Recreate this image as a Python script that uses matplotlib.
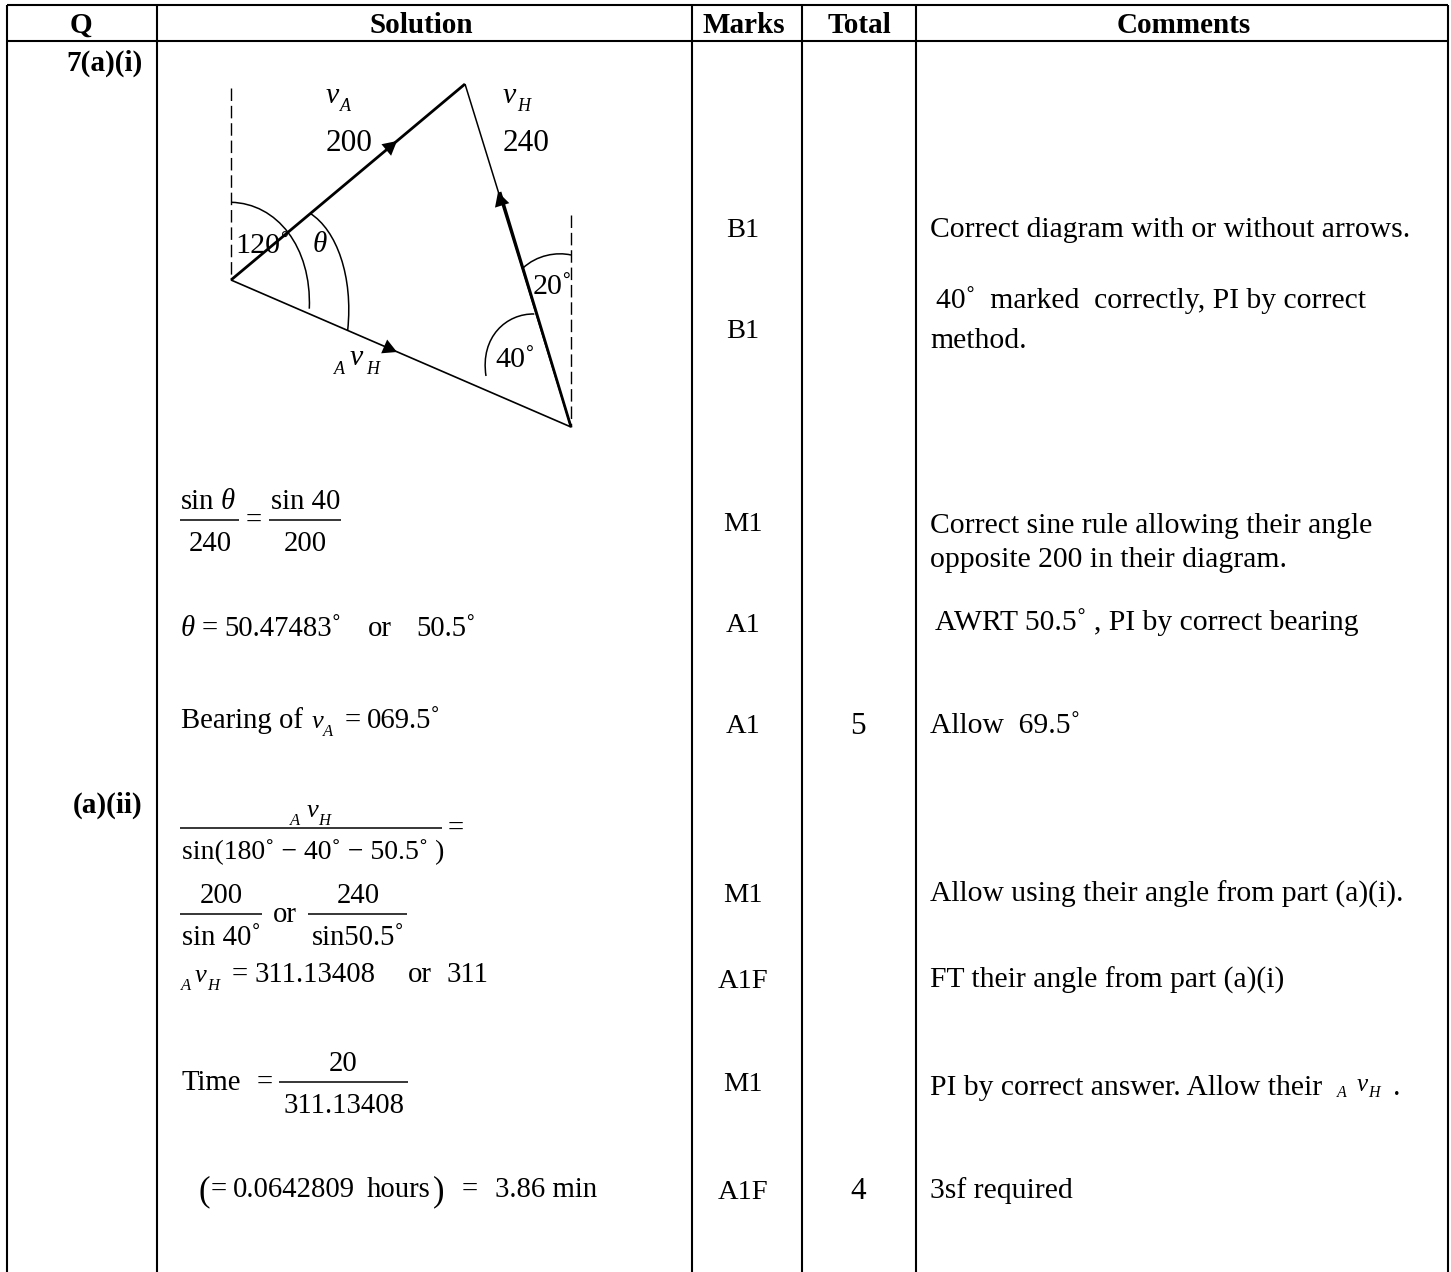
import matplotlib
matplotlib.use("Agg")
import matplotlib.pyplot as plt
from matplotlib.path import Path
from matplotlib.patches import PathPatch, Polygon

plt.rcParams['font.family'] = ['Liberation Serif', 'DejaVu Serif']

W, H = 1451, 1272
DEG = "\u02da"
BODY = 21.3
MATH = 20.7

# table rules
col_x = [7, 157, 692, 802, 916, 1448]
row_y = [5, 41]

headers = ["Q", "Solution", "Marks", "Total", "Comments"]
header_x = [81, 421, 744, 859, 1184]

questions = ["7(a)(i)", "(a)(ii)"]
question_x = [104.5, 108]
question_y = [71, 813]

marks = ["B1", "B1", "M1", "A1", "A1", "M1", "A1F", "M1", "A1F"]
marks_y = [237, 338, 531, 632, 733, 902, 988, 1091, 1199]

totals = ["5", "4"]
totals_y = [734, 1199]

comments = [
    (930, 237, "Correct diagram with or without arrows."),
    (936, 308, "40" + DEG + "  marked  correctly, PI by correct"),
    (930, 348, "method."),
    (930, 533, "Correct sine rule allowing their angle"),
    (930, 567, "opposite 200 in their diagram."),
    (935, 630, "AWRT 50.5" + DEG + " , PI by correct bearing"),
    (930, 733, "Allow  69.5" + DEG),
    (930, 902, "Allow using their angle from part (a)(i)."),
    (930, 988, "FT their angle from part (a)(i)"),
    (930, 1095, "PI by correct answer. Allow their"),
    (1393, 1095, "."),
    (930, 1198, "3sf required"),
]

# vector diagram
vertex_a = (231, 280)
vertex_top = (465, 84)
vertex_right = (571, 427)
heavy_end = (500, 192)
dash_left = [(231, 88), (231, 280)]
dash_right = [(571, 215), (571, 427)]
arrow_tips = [((397, 141), vertex_a), ((498, 192), vertex_right), ((397, 352), vertex_a)]
arcs = [
    [(231, 202.3), (276.7, 203.3), (311.7, 246.7), (309.3, 308.7)],
    [(310, 213.3), (336.7, 230), (353.3, 276.7), (347.7, 330)],
    [(522.7, 268.3), (536.7, 255), (556.7, 251.7), (571, 255)],
    [(486, 376), (480, 336.7), (506.7, 313.3), (534.3, 314)],
]

# plain text pieces of the solution column: x, baseline, text, size, ha
solution_text = [
    (181, 509, "sin", MATH, "left"),
    (210, 551, "240", MATH, "center"),
    (246, 528, "=", MATH, "left"),
    (271, 509, "sin 40", MATH, "left"),
    (305, 551, "200", MATH, "center"),
    (202, 636, "=", MATH, "left"),
    (224, 636, "50.47483" + DEG, MATH, "left"),
    (368, 636, "or", MATH, "left"),
    (416, 636, "50.5" + DEG, MATH, "left"),
    (181, 728, "Bearing of", MATH, "left"),
    (345, 728, "=", MATH, "left"),
    (367, 728, "069.5" + DEG, MATH, "left"),
    (182, 859, "sin(180" + DEG + " \u2212 40" + DEG + " \u2212 50.5" + DEG + " )", 20.0, "left"),
    (448, 836, "=", MATH, "left"),
    (221, 903, "200", MATH, "center"),
    (182, 945, "sin 40" + DEG, MATH, "left"),
    (273, 922, "or", MATH, "left"),
    (358, 903, "240", MATH, "center"),
    (312, 945, "sin50.5" + DEG, MATH, "left"),
    (232, 982, "=", MATH, "left"),
    (255, 982, "311.13408", MATH, "left"),
    (408, 982, "or", MATH, "left"),
    (447, 982, "311", MATH, "left"),
    (181, 1090, "Time", MATH, "left"),
    (257, 1090, "=", MATH, "left"),
    (343, 1071, "20", MATH, "center"),
    (344, 1113, "311.13408", MATH, "center"),
    (199, 1200, "(", 25, "left"),
    (211, 1197, "=", MATH, "left"),
    (233, 1197, "0.0642809", MATH, "left"),
    (367, 1197, "hours", MATH, "left"),
    (433, 1200, ")", 25, "left"),
    (462, 1197, "=", MATH, "left"),
    (495, 1197, "3.86 min", MATH, "left"),
]
fraction_rules = [
    (180, 239, 520), (269, 341, 520), (180, 442, 828),
    (180, 262, 914), (308, 407, 914), (279, 408, 1082),
]
theta_labels = [(221, 509, MATH), (181, 636, MATH), (313, 252, 21)]

# diagram labels
diagram_text = [
    (326, 151, "200", 22.5),
    (503, 151, "240", 22.5),
    (235, 253, "120" + DEG, 21.6),
    (533, 294, "20" + DEG, 21.6),
    (495, 367, "40" + DEG, 21.6),
]

# v terms: x of left subscript, x of v, x of right subscript, baseline of v,
# baseline of the subscripts, left subscript, right subscript, size of v, size of subscripts
v_terms = [
    (None, 326, 340, 103, 111, "", "A", 21.5, 13),
    (None, 503, 517, 103, 111, "", "H", 21.5, 13),
    (334, 350, 366, 365, 374, "A", "H", 21.5, 13),
    (None, 312, 323, 728, 736, "", "A", 19, 12),
    (290, 307, 318, 817, 825, "A", "H", 19, 12),
    (181, 195, 207, 982, 990, "A", "H", 19, 12),
    (1337, 1357, 1368, 1091, 1097, "A", "H", 18, 11.5),
]

fig = plt.figure(figsize=(W / 100, H / 100), dpi=100)
ax = fig.add_axes([0, 0, 1, 1])
ax.set_xlim(0, W)
ax.set_ylim(H, 0)
ax.axis("off")


def t(x, y, s, size=BODY, ha="left", **kw):
    ax.text(x, y, s, fontsize=size, ha=ha, va="baseline", color="black", **kw)


def rule(x0, y0, x1, y1, lw=1.1):
    ax.plot([x0, x1], [y0, y1], color="black", lw=lw, solid_capstyle="butt")


# table
for x in col_x:
    rule(x, row_y[0], x, H, lw=1.5)
for y in row_y:
    rule(col_x[0], y, col_x[-1], y, lw=1.5)

for x, s in zip(header_x, headers):
    t(x, 33, s, ha="center", weight="bold", size=21)
for x, y, s in zip(question_x, question_y, questions):
    t(x, y, s, ha="center", weight="bold", size=21)
for y, s in zip(marks_y, marks):
    t(743, y, s, ha="center", size=20.5)
for y, s in zip(totals_y, totals):
    t(858, y, s, ha="center", size=22.5)
for x, y, s in comments:
    t(x, y, s)

# diagram lines
rule(*vertex_a, *vertex_top, lw=2.0)
rule(*vertex_top, *vertex_right, lw=1.1)
rule(*heavy_end, *vertex_right, lw=2.0)
rule(*vertex_a, *vertex_right, lw=1.2)
for seg in (dash_left, dash_right):
    ax.plot([p[0] for p in seg], [p[1] for p in seg], color="black", lw=1.0, dashes=(9, 3.5))
for tip, back in arrow_tips:
    dx, dy = tip[0] - back[0], tip[1] - back[1]
    n = (dx * dx + dy * dy) ** 0.5
    dx, dy = dx / n, dy / n
    bx, by = tip[0] - dx * 14, tip[1] - dy * 14
    ax.add_patch(Polygon([tip, (bx - dy * 7.5, by + dx * 7.5), (bx + dy * 7.5, by - dx * 7.5)],
                         closed=True, color="black", lw=0))
codes = [Path.MOVETO, Path.CURVE4, Path.CURVE4, Path.CURVE4]
for pts in arcs:
    ax.add_patch(PathPatch(Path(pts, codes), fill=False, lw=1.1, ec="black"))

for x, y, s, size in diagram_text:
    t(x, y, s, size=size)
for x, y, size in theta_labels:
    t(x, y, "\u03b8", size=size, style="italic")
for pre_x, v_x, sub_x, base_v, base_s, pre, sub, size_v, size_s in v_terms:
    if pre_x is not None:
        t(pre_x, base_s, pre, size=size_s, style="italic")
    t(v_x, base_v, "v", size=size_v, style="italic")
    t(sub_x, base_s, sub, size=size_s, style="italic")

# solution column
for x, y, s, size, ha in solution_text:
    t(x, y, s, size=size, ha=ha)
for x0, x1, y in fraction_rules:
    rule(x0, y, x1, y)

fig.savefig("out.png", dpi=100)
